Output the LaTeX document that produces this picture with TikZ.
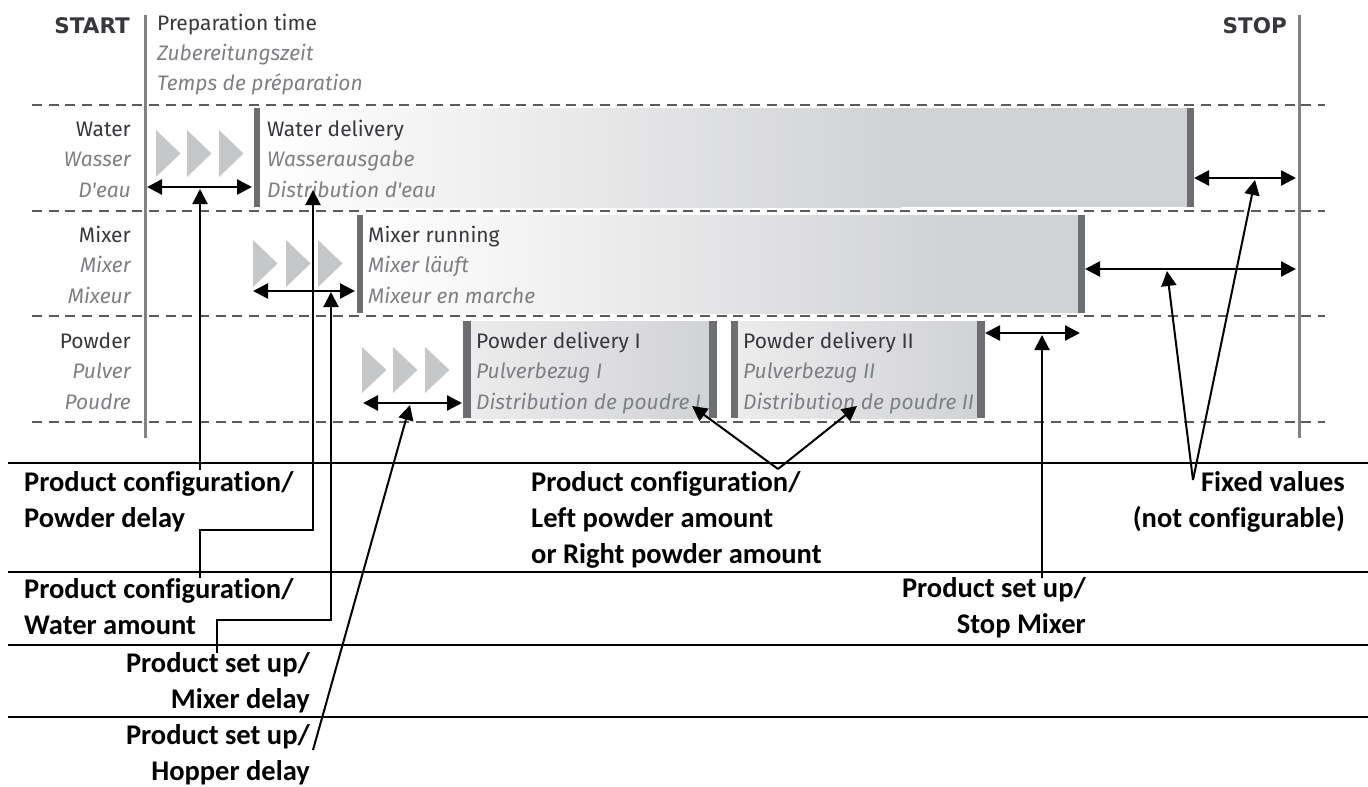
\documentclass[tikz,border=0pt]{standalone}
\usepackage{fontspec}
\setmainfont{Carlito}[Ligatures=NoCommon]
\newfontfamily\dinfont{Fira Sans}
\newfontfamily\headfont{DejaVu Sans}
\usetikzlibrary{arrows.meta}
\definecolor{vgrey}{HTML}{808285}
\definecolor{dgrey}{HTML}{5A5B5D}
\definecolor{bargrey}{HTML}{6D6E71}
\definecolor{chevgrey}{HTML}{C6C7C9}
\definecolor{boxgrey}{HTML}{D1D2D4}
\definecolor{boxlight}{HTML}{ECECED}
\definecolor{txtdark}{HTML}{38373C}
\definecolor{txtlight}{HTML}{7E8084}
\newcommand\lightit[1]{{\itshape\color{txtlight}#1}}
\tikzset{
 rowtxt/.style={font=\dinfont\fontsize{21}{30.5}\selectfont, text=txtdark, inner sep=0pt},
 headtxt/.style={font=\headfont\bfseries\fontsize{21.5}{30}\selectfont, text=txtdark, inner sep=0pt},
 note/.style={font=\bfseries\fontsize{28.5}{36}\selectfont, inner sep=0pt},
 dimarrow/.style={{Triangle[length=15pt,width=15pt]}-{Triangle[length=15pt,width=15pt]}, line width=2.4pt},
 annarrow/.style={-{Triangle[length=15pt,width=15pt]}, line width=2pt},
 sepline/.style={line width=1.8pt},
 dashsep/.style={dgrey, line width=1.6pt, dash pattern=on 10pt off 6.7pt},
 timeline/.style={vgrey, line width=3pt},
 endbar/.style={fill=bargrey},
 chev/.style={fill=chevgrey},
}
\begin{document}
\begin{tikzpicture}[x=1pt,y=-1pt]
\useasboundingbox (0,0) rectangle (1368,787);
% dashed row separators
\foreach \y in {105,211,316,422} \draw[dashsep] (32,\y) -- (1325,\y);
% START / STOP lines
\coordinate (st1) at (145,15); \coordinate (st2) at (145,438);
\coordinate (sp1) at (1299,15); \coordinate (sp2) at (1299,438);
\draw[timeline] (st1) -- (st2);
\draw[timeline] (sp1) -- (sp2);
% water box
\fill[boxgrey] (260,108) rectangle (1187,207);
\shade[left color=white, right color=boxgrey] (260,108) rectangle (900.5,207);
\fill[endbar] (254,108) rectangle (260,207);
\fill[endbar] (1187,108) rectangle (1194,207);
% mixer box
\fill[boxgrey] (363,215) rectangle (1078,313);
\shade[left color=white, right color=boxgrey] (363,215) rectangle (950.5,313);
\fill[endbar] (357,215) rectangle (363,313);
\fill[endbar] (1078,215) rectangle (1085,313);
% powder boxes
\shade[left color=boxlight, right color=boxgrey] (471,321) rectangle (709,418);
\fill[endbar] (463,321) rectangle (471,418);
\fill[endbar] (709,321) rectangle (717,418);
\shade[left color=boxlight, right color=boxgrey] (738,321) rectangle (977,418);
\fill[endbar] (731,321) rectangle (738,418);
\fill[endbar] (977,321) rectangle (985,418);
% chevrons
\foreach \x in {156,187,219} \fill[chev] (\x,130) -- ++(24.5,23.5) -- ++(-24.5,23.5) -- cycle;
\foreach \x in {253,286,318} \fill[chev] (\x,240) -- ++(24.5,23.5) -- ++(-24.5,23.5) -- cycle;
\foreach \x in {362,393,425} \fill[chev] (\x,347) -- ++(24.5,23) -- ++(-24.5,23) -- cycle;
% header texts
\node[headtxt, anchor=base east] (start) at (130,33) {START};
\node[headtxt, anchor=base east] (stop) at (1287,33) {STOP};
\node[rowtxt, anchor=base west] (prep) at (157,30) {\begin{tabular}[t]{@{}l@{}}Preparation time\\ \lightit{Zubereitungszeit}\\ \lightit{Temps de préparation}\end{tabular}};
% row labels
\node[rowtxt, anchor=base east] (rwater) at (131,136) {\begin{tabular}[t]{@{}r@{}}Water\\ \lightit{Wasser}\\ \lightit{D'eau}\end{tabular}};
\node[rowtxt, anchor=base east] (rmixer) at (131,242) {\begin{tabular}[t]{@{}r@{}}Mixer\\ \lightit{Mixer}\\ \lightit{Mixeur}\end{tabular}};
\node[rowtxt, anchor=base east] (rpowder) at (131,348) {\begin{tabular}[t]{@{}r@{}}Powder\\ \lightit{Pulver}\\ \lightit{Poudre}\end{tabular}};
% bar texts
\node[rowtxt, anchor=base west] (twater) at (267,136) {\begin{tabular}[t]{@{}l@{}}Water delivery\\ \lightit{Wasserausgabe}\\ \lightit{Distribution d'eau}\end{tabular}};
\node[rowtxt, anchor=base west] (tmixer) at (368,242) {\begin{tabular}[t]{@{}l@{}}Mixer running\\ \lightit{Mixer läuft}\\ \lightit{Mixeur en marche}\end{tabular}};
\node[rowtxt, anchor=base west] (tpow1) at (476,348) {\begin{tabular}[t]{@{}l@{}}Powder delivery I\\ \lightit{Pulverbezug I}\\ \lightit{Distribution de poudre I}\end{tabular}};
\node[rowtxt, anchor=base west] (tpow2) at (743,348) {\begin{tabular}[t]{@{}l@{}}Powder delivery II\\ \lightit{Pulverbezug II}\\ \lightit{Distribution de poudre II}\end{tabular}};
% dimension arrows
\coordinate (wa) at (147,187); \coordinate (wb) at (252,187);
\coordinate (ma) at (253,291); \coordinate (mb) at (355,291);
\coordinate (pa) at (363,403); \coordinate (pb) at (462,403);
\coordinate (wra) at (1194,178); \coordinate (wrb) at (1296,178);
\coordinate (mra) at (1085,269); \coordinate (mrb) at (1296,269);
\coordinate (pra) at (985,333); \coordinate (prb) at (1080,333);
\draw[dimarrow] (wa) -- (wb);
\draw[dimarrow] (ma) -- (mb);
\draw[dimarrow] (pa) -- (pb);
\draw[dimarrow] (wra) -- (wrb);
\draw[dimarrow] (mra) -- (mrb);
\draw[dimarrow] (pra) -- (prb);
% separator lines
\foreach \y in {463,572,645,717} \draw[sepline] (8,\y) -- (1368,\y);
% notes
\node[note, anchor=base west] (n1) at (24,491) {\begin{tabular}[t]{@{}l@{}}Product configuration/\\Powder delay\end{tabular}};
\node[note, anchor=base west] (n2) at (24,598) {\begin{tabular}[t]{@{}l@{}}Product configuration/\\Water amount\end{tabular}};
\node[note, anchor=base east] (n3) at (310,672) {\begin{tabular}[t]{@{}r@{}}Product set up/\\Mixer delay\end{tabular}};
\node[note, anchor=base east] (n4) at (310,744) {\begin{tabular}[t]{@{}r@{}}Product set up/\\Hopper delay\end{tabular}};
\node[note, anchor=base west] (n5) at (531,491) {\begin{tabular}[t]{@{}l@{}}Product configuration/\\Left powder amount\\or Right powder amount\end{tabular}};
\node[note, anchor=base east] (n6) at (1086,597) {\begin{tabular}[t]{@{}r@{}}Product set up/\\Stop Mixer\end{tabular}};
\node[note, anchor=base east] (n7) at (1345,491) {\begin{tabular}[t]{@{}r@{}}Fixed values\\(not configurable)\end{tabular}};
% annotation connectors
\coordinate (a1s) at (200,470); \coordinate (a1e) at (200,189);
\draw[annarrow] (a1s) -- (a1e);
\coordinate (a2s) at (200,578); \coordinate (a2e) at (313,190);
\draw[annarrow] (a2s) |- (313,530) -- (a2e);
\coordinate (a3s) at (217,653); \coordinate (a3e) at (331,292);
\draw[annarrow] (a3s) |- (331,620) -- (a3e);
\coordinate (a4s) at (313,750); \coordinate (a4e) at (410,405);
\draw[annarrow] (a4s) -- (a4e);
\coordinate (a5s) at (778,469); \coordinate (a5e) at (692,406); \coordinate (a6e) at (857,406);
\draw[annarrow] (a5s) -- (a5e);
\draw[annarrow] (a5s) -- (a6e);
\coordinate (a7s) at (1042,578); \coordinate (a7e) at (1042,335);
\draw[annarrow] (a7s) -- (a7e);
\coordinate (a8s) at (1193,480); \coordinate (a8e) at (1167,271); \coordinate (a9e) at (1255,180);
\draw[annarrow] (a8s) -- (a8e);
\draw[annarrow] (a8s) -- (a9e);
\end{tikzpicture}
\end{document}
